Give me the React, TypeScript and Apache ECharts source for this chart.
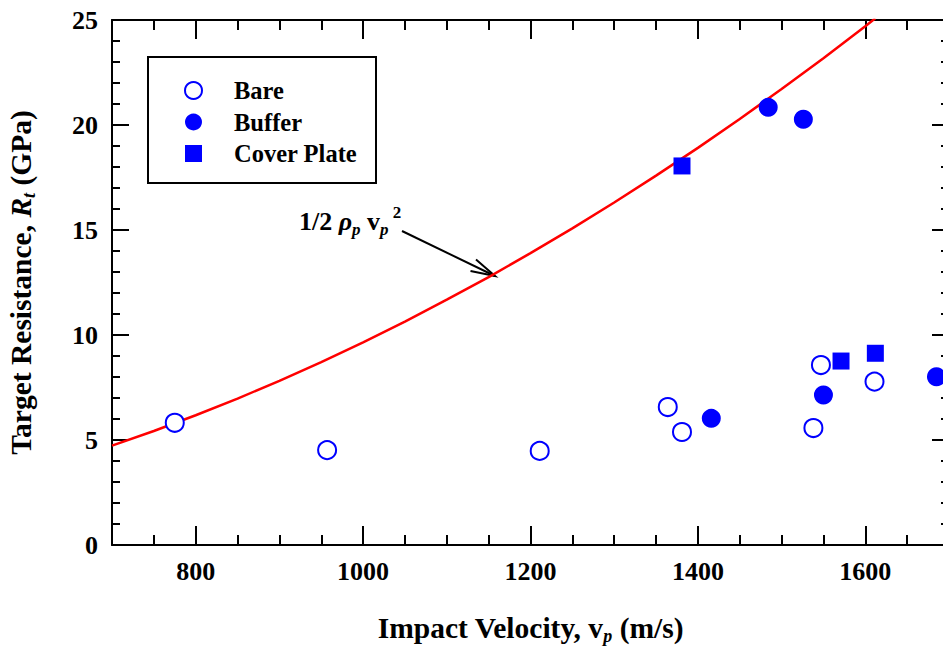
import React, { useEffect, useRef } from "react";
import * as echarts from "echarts";

const FONT = "Liberation Serif";
const BLUE = "#0000ff";

// Data
const bareVelocity = [775, 957, 1211, 1364, 1381, 1538, 1547, 1611];
const bareResistance = [5.82, 4.52, 4.48, 6.57, 5.38, 5.57, 8.57, 7.78];
const bufferVelocity = [1416, 1484, 1526, 1550, 1685];
const bufferResistance = [6.03, 20.84, 20.27, 7.14, 8.01];
const coverVelocity = [1381, 1571, 1612];
const coverResistance = [18.05, 8.76, 9.13];
const curveVelocity = [700, 750, 800, 850, 900, 950, 1000, 1050, 1100, 1150, 1200, 1250, 1300, 1350, 1400, 1450, 1500, 1550, 1600, 1612];
const curveResistance = [4.73, 5.43, 6.18, 6.97, 7.82, 8.71, 9.65, 10.64, 11.68, 12.76, 13.9, 15.08, 16.31, 17.59, 18.91, 20.29, 21.71, 23.18, 24.7, 25.08];
const xMajorTicks = [800, 1000, 1200, 1400, 1600];
const legendNames = ["Bare", "Buffer", "Cover Plate"];

const zip = (a: number[], b: number[]) => a.map((v, i) => [v, b[i]]);

export default function App() {
  const ref = useRef<HTMLDivElement>(null);
  useEffect(() => {
    if (!ref.current) return;
    const chart = echarts.init(ref.current, null, { renderer: "svg" });
    const axisLine = { show: true, lineStyle: { color: "#000", width: 2 } };
    const tickLine = { color: "#000", width: 2 };
    const labelStyle = { fontFamily: FONT, fontSize: 26, fontWeight: "bold" as const, color: "#000" };
    const titleRich = {
      b: { fontFamily: FONT, fontSize: 29.5, fontWeight: "bold", color: "#000", lineHeight: 34, verticalAlign: "middle" },
      bi: { fontFamily: FONT, fontSize: 29.5, fontWeight: "bold", fontStyle: "italic", color: "#000", lineHeight: 34, verticalAlign: "middle" },
      s: { fontFamily: FONT, fontSize: 18, fontWeight: "bold", fontStyle: "italic", color: "#000", lineHeight: 14.6, verticalAlign: "bottom" },
    };
    const baseX = { type: "value", min: 700, max: 1700, splitLine: { show: false } };
    chart.setOption({
      animation: false,
      grid: { left: 112, right: -6, top: 20, bottom: 104, outerBoundsMode: "none", containLabel: false },
      legend: {
        data: legendNames,
        orient: "vertical",
        left: 184,
        top: 78,
        padding: 0,
        itemWidth: 17,
        itemHeight: 17,
        itemGap: 6.5,
        selectedMode: false,
        textStyle: { fontFamily: FONT, fontSize: 24.5, fontWeight: "bold", color: "#000", padding: [0, 0, 0, 27] },
      },
      xAxis: [
        {
          ...baseX,
          position: "bottom",
          interval: 50,
          axisLine,
          axisTick: { show: true, inside: true, length: 10, lineStyle: tickLine },
          axisLabel: { show: false },
          name: "{b|Impact Velocity, v}{s|p}{b| (m/s)}",
          nameLocation: "middle",
          nameGap: 66,
          nameTextStyle: { fontFamily: FONT, fontWeight: "bold", fontSize: 29.5, rich: titleRich },
        },
        {
          ...baseX,
          position: "bottom",
          axisLine: { show: false },
          axisTick: { show: true, inside: true, length: 19, customValues: xMajorTicks, lineStyle: tickLine },
          axisLabel: { show: true, customValues: xMajorTicks, margin: 13, formatter: (v: number) => String(v), ...labelStyle },
        },
        {
          ...baseX,
          position: "top",
          interval: 50,
          axisLine,
          axisTick: { show: true, inside: true, length: 10, lineStyle: tickLine },
          axisLabel: { show: false },
        },
        {
          ...baseX,
          position: "top",
          axisLine: { show: false },
          axisTick: { show: true, inside: true, length: 19, customValues: xMajorTicks, lineStyle: tickLine },
          axisLabel: { show: false },
        },
      ],
      yAxis: [
        {
          type: "value",
          min: 0,
          max: 25,
          interval: 5,
          position: "left",
          splitLine: { show: false },
          axisLine,
          axisTick: { show: true, inside: true, length: 17, lineStyle: tickLine },
          minorTick: { show: true, splitNumber: 5, length: 8, lineStyle: tickLine },
          axisLabel: { margin: 14, formatter: (v: number) => String(v), ...labelStyle },
          name: "{b|Target Resistance, }{bi|R}{s|t}{b| (GPa)}",
          nameLocation: "middle",
          nameGap: 74,
          nameTextStyle: { fontFamily: FONT, fontWeight: "bold", fontSize: 29.5, rich: titleRich },
        },
        {
          type: "value",
          min: 0,
          max: 25,
          interval: 5,
          position: "right",
          splitLine: { show: false },
          axisLine,
          axisTick: { show: true, inside: true, length: 17, lineStyle: tickLine },
          minorTick: { show: true, splitNumber: 5, length: 8, lineStyle: tickLine },
          axisLabel: { show: false },
        },
      ],
      graphic: [
        {
          type: "rect",
          shape: { x: 148, y: 57, width: 228, height: 126 },
          style: { fill: "none", stroke: "#000", lineWidth: 2 },
          z: 1,
        },
        {
          type: "text",
          x: 299,
          y: 204,
          style: {
            text: "{a|1/2 }{g|ρ}{s|p}{a| v}{s|p}{u| 2}",
            align: "left",
            verticalAlign: "top",
            rich: {
              a: { fontFamily: FONT, fontSize: 26, fontWeight: "bold", fill: "#000", lineHeight: 34, verticalAlign: "middle" },
              g: { fontFamily: FONT, fontSize: 26, fontWeight: "bold", fontStyle: "italic", fill: "#000", lineHeight: 34, verticalAlign: "middle" },
              s: { fontFamily: FONT, fontSize: 17, fontWeight: "bold", fontStyle: "italic", fill: "#000", lineHeight: 15.8, verticalAlign: "bottom" },
              u: { fontFamily: FONT, fontSize: 17, fontWeight: "bold", fill: "#000", lineHeight: 16.2, verticalAlign: "top" },
            },
          },
        },
        {
          type: "line",
          shape: { x1: 402, y1: 231, x2: 495, y2: 276 },
          style: { stroke: "#000", lineWidth: 2 },
        },
        {
          type: "polyline",
          shape: { points: [[476, 259.5], [495, 276], [470.5, 271]] },
          style: { stroke: "#000", lineWidth: 2, fill: "none" },
        },
      ],
      series: [
        {
          name: "curve",
          type: "line",
          data: zip(curveVelocity, curveResistance),
          showSymbol: false,
          smooth: false,
          lineStyle: { color: "#ff0000", width: 2.5 },
          clip: true,
          z: 2,
        },
        {
          name: "Bare",
          type: "scatter",
          symbol: "emptyCircle",
          symbolSize: 18,
          data: zip(bareVelocity, bareResistance),
          itemStyle: { color: BLUE, borderColor: BLUE, borderWidth: 2, opacity: 1 },
          z: 3,
        },
        {
          name: "Buffer",
          type: "scatter",
          symbol: "circle",
          symbolSize: 19,
          data: zip(bufferVelocity, bufferResistance),
          itemStyle: { color: BLUE, opacity: 1 },
          z: 3,
        },
        {
          name: "Cover Plate",
          type: "scatter",
          symbol: "rect",
          symbolSize: 17,
          data: zip(coverVelocity, coverResistance),
          itemStyle: { color: BLUE, opacity: 1 },
          z: 3,
        },
      ],
    });
    return () => chart.dispose();
  }, []);
  return (
    <div
      ref={ref}
      style={{ position: "fixed", left: 0, top: 0, width: 943, height: 649, background: "#fff" }}
    />
  );
}
